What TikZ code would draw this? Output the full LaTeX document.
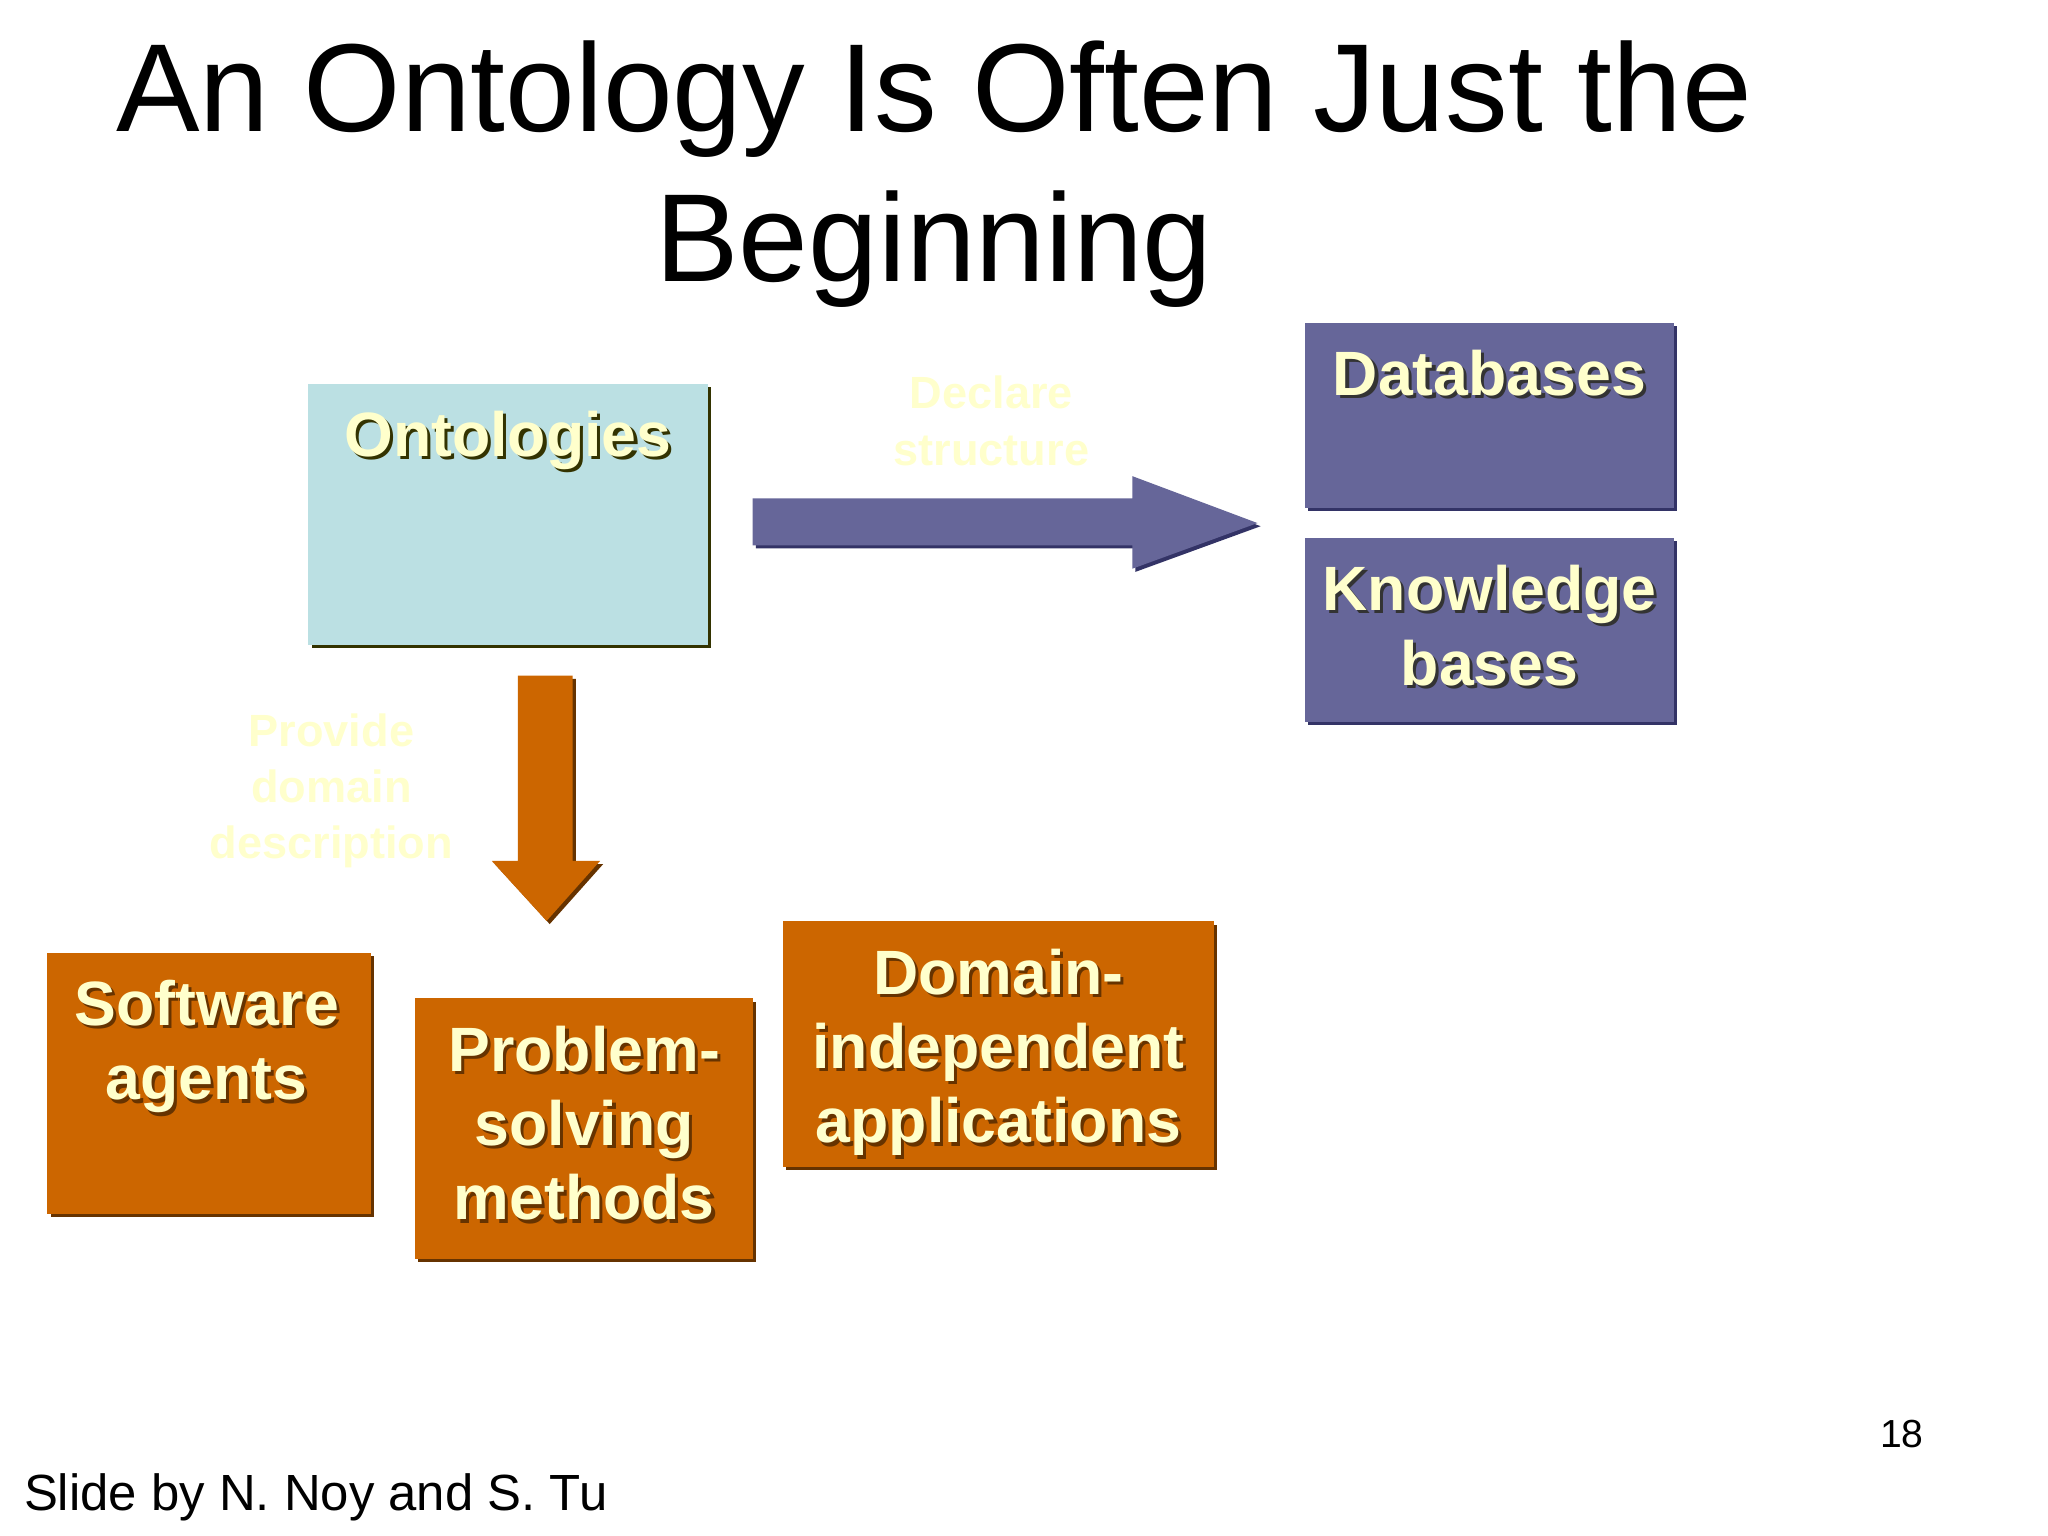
\documentclass[tikz,border=0pt]{standalone}
\usepackage{fontspec}
\setmainfont{Liberation Sans}
\usetikzlibrary{positioning,shadows}

\definecolor{ontofill}{HTML}{BBE0E3}
\definecolor{ontoshadow}{HTML}{333300}
\definecolor{boxblue}{HTML}{666699}
\definecolor{blueshadow}{HTML}{333366}
\definecolor{boxorange}{HTML}{CC6600}
\definecolor{orangeshadow}{HTML}{663300}
\definecolor{cream}{HTML}{FFFFCC}
\definecolor{txtshadow}{HTML}{333333}

% text with a small dark shadow under it
\newcommand{\sh}[1]{\leavevmode\rlap{\kern1.2pt\raisebox{-1.2pt}{\color{txtshadow}#1}}#1}

\tikzset{
    box/.style={rectangle, inner sep=0pt, anchor=north west},
    ontobox/.style={box, fill=ontofill, general shadow={fill=ontoshadow, shadow xshift=1.2pt, shadow yshift=-1.2pt}},
    bluebox/.style={box, fill=boxblue, general shadow={fill=blueshadow, shadow xshift=1.2pt, shadow yshift=-1.2pt}},
    orangebox/.style={box, fill=boxorange, general shadow={fill=orangeshadow, shadow xshift=1.2pt, shadow yshift=-1.2pt}},
    boxtext/.style={text=cream, align=center, inner sep=0pt, font=\bfseries\fontsize{24}{28.5}\selectfont},
    fainttext/.style={text=cream, align=center, inner sep=0pt, anchor=north, font=\bfseries\fontsize{17.3}{21.5}\selectfont},
    bluearrow/.style={fill=boxblue, general shadow={fill=blueshadow, shadow xshift=1.2pt, shadow yshift=-1.2pt}},
    orangearrow/.style={fill=boxorange, general shadow={fill=orangeshadow, shadow xshift=1.2pt, shadow yshift=-1.2pt}}
}

\begin{document}
\begin{tikzpicture}[x=0.5pt,y=-0.5pt]
    \useasboundingbox[fill=white] (0,0) rectangle (1570,1177.5);

    \node (title) [anchor=north, align=center, inner sep=0pt, font=\fontsize{48}{57.5}\selectfont] at (716,31)
        {An Ontology Is Often Just the\\Beginning};

    % boxes
    \node (onto) [ontobox, minimum width=153pt, minimum height=100pt] at (236,294) {};
    \node (db) [bluebox, minimum width=141.5pt, minimum height=71pt] at (1000,247) {};
    \node (kb) [bluebox, minimum width=141.5pt, minimum height=70.5pt] at (1000,412) {};
    \node (agents) [orangebox, minimum width=124pt, minimum height=100pt] at (36,730) {};
    \node (psm) [orangebox, minimum width=129.5pt, minimum height=100pt] at (318,765) {};
    \node (apps) [orangebox, minimum width=165pt, minimum height=94pt] at (600,706) {};

    \node (ontotext) [boxtext, below=10.5pt of onto.north, execute at begin node={\colorlet{txtshadow}{ontoshadow}}] {\sh{Ontologies}};
    \node (dbtext) [boxtext, below=10.5pt of db.north] {\sh{Databases}};
    \node (kbtext) [boxtext, below=10.5pt of kb.north] {\sh{Knowledge}\\\sh{bases}};
    \node (agentstext) [boxtext, below=10.5pt of agents.north, xshift=-1pt, execute at begin node={\colorlet{txtshadow}{orangeshadow}}] {\sh{Software}\\\sh{agents}};
    \node (psmtext) [boxtext, below=10.5pt of psm.north, execute at begin node={\colorlet{txtshadow}{orangeshadow}}] {\sh{Problem-}\\\sh{solving}\\\sh{methods}};
    \node (appstext) [boxtext, below=10.5pt of apps.north, execute at begin node={\colorlet{txtshadow}{orangeshadow}}] {\sh{Domain-}\\\sh{independent}\\\sh{applications}};

    % block arrows
    \fill[bluearrow] (577,382) -- (868,382) -- (868,365) -- (964,401) -- (868,436) -- (868,418) -- (577,418) -- cycle;
    \fill[orangearrow] (397,518) -- (439,518) -- (439,660) -- (460,660) -- (419,706) -- (377,660) -- (397,660) -- cycle;

    \node (declare) [fainttext] at (760,288) {Declare\\structure};
    \node (provide) [fainttext] at (254,547) {Provide\\domain\\description};

    \node (pagenum) [anchor=base, inner sep=0pt, font=\fontsize{15}{18}\selectfont] at (1458,1110) {18};
    \node (credit) [anchor=base west, inner sep=0pt, font=\fontsize{19.5}{23}\selectfont] at (18,1158) {Slide by N. Noy and S. Tu};
\end{tikzpicture}
\end{document}
